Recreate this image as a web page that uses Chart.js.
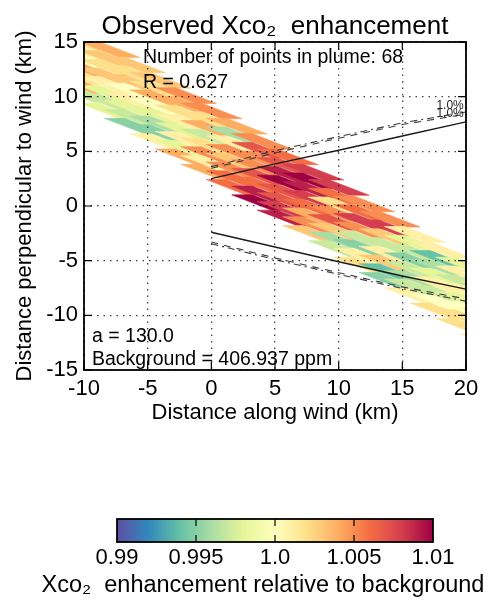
<!DOCTYPE html>
<html>
<head>
<meta charset="utf-8">
<script src="https://cdn.jsdelivr.net/npm/chart.js@4.4.1/dist/chart.umd.min.js"></script>
<style>
  html, body { margin: 0; padding: 0; background: #fff; }
  #wrap { position: relative; width: 490px; height: 605px; }
  #main { position: absolute; left: 0; top: 0; }
  #cbar { position: absolute; left: 0; top: 500px; }
</style>
</head>
<body>
<div id="wrap">
  <canvas id="main" width="490" height="430"></canvas>
  <canvas id="cbar" width="490" height="105"></canvas>
</div>
<script>
// ---------- values ----------
const xTickLabels = ['-10', '-5', '0', '5', '10', '15', '20'];
const yTickLabels = ['-15', '-10', '-5', '0', '5', '10', '15'];
const cbarTickLabels = ['0.99', '0.995', '1.0', '1.005', '1.01'];
const cbarMin = 0.99, cbarMax = 1.01;

const pointsInPlume = 68;
const corrR = '0.627';
const aParam = '130.0';
const backgroundPpm = '406.937';
const contourLabel = '1.0%';

// sounding centres along wind (km), shared by the 8 footprint rows of the swath
const alongKm = [-12, -10, -8, -6, -4, -2, 0, 2, 4, 6, 8, 10, 12, 14, 16, 18, 20, 22];

// centre of each sounding perpendicular to wind (km), top row of the swath first
const row1Y = [17.2, 15.8, 14.3, 12.9, 11.5, 10.1, 8.7, 7.3, 5.9, 4.5, 3.1, 1.7, 0.2, -1.2, -2.6, -4.0, -5.4, -6.8];
const row2Y = [16.4, 15.0, 13.5, 12.1, 10.7, 9.3, 7.9, 6.5, 5.1, 3.7, 2.3, 0.9, -0.6, -2.0, -3.4, -4.8, -6.2, -7.6];
const row3Y = [15.6, 14.2, 12.7, 11.3, 9.9, 8.5, 7.1, 5.7, 4.3, 2.9, 1.5, 0.1, -1.4, -2.8, -4.2, -5.6, -7.0, -8.4];
const row4Y = [14.8, 13.4, 11.9, 10.5, 9.1, 7.7, 6.3, 4.9, 3.5, 2.1, 0.7, -0.7, -2.2, -3.6, -5.0, -6.4, -7.8, -9.2];
const row5Y = [14.0, 12.6, 11.1, 9.7, 8.3, 6.9, 5.5, 4.1, 2.7, 1.3, -0.1, -1.5, -3.0, -4.4, -5.8, -7.2, -8.6, -10.0];
const row6Y = [13.2, 11.8, 10.3, 8.9, 7.5, 6.1, 4.7, 3.3, 1.9, 0.5, -0.9, -2.3, -3.8, -5.2, -6.6, -8.0, -9.4, -10.8];
const row7Y = [12.4, 11.0, 9.5, 8.1, 6.7, 5.3, 3.9, 2.5, 1.1, -0.3, -1.7, -3.1, -4.6, -6.0, -7.4, -8.8, -10.2, -11.6];
const row8Y = [11.6, 10.2, 8.7, 7.3, 5.9, 4.5, 3.1, 1.7, 0.3, -1.1, -2.5, -3.9, -5.4, -6.8, -8.2, -9.6, -11.0, -12.4];

// Xco2 relative to background for each sounding
const row1Ratio = [1.002, 1.003, 1.004, 1.003, 1.003, 1.005, 1.005, 1.004, 1.005, 1.006, 1.008, 1.008, 1.005, 1.005, 1.001, 1.001, 0.998, 1.000];
const row2Ratio = [1.003, 1.002, 1.003, 1.002, 1.002, 1.004, 1.002, 0.996, 1.007, 1.007, 1.010, 1.006, 1.006, 1.008, 0.998, 0.994, 1.001, 0.998];
const row3Ratio = [1.001, 1.001, 1.002, 1.003, 1.004, 1.002, 1.004, 1.001, 1.005, 1.009, 1.009, 1.002, 1.008, 1.003, 0.997, 0.996, 0.997, 1.001];
const row4Ratio = [1.000, 1.000, 1.003, 1.000, 1.000, 1.001, 0.997, 1.005, 1.005, 1.010, 1.008, 1.005, 1.005, 0.997, 0.995, 0.998, 1.001, 0.999];
const row5Ratio = [1.002, 1.004, 1.001, 1.001, 0.998, 0.998, 1.002, 1.003, 1.007, 1.007, 1.006, 1.007, 0.997, 1.001, 0.997, 1.001, 0.998, 1.001];
const row6Ratio = [1.004, 1.002, 0.998, 0.998, 0.996, 1.001, 1.005, 1.005, 1.006, 1.007, 1.004, 1.003, 0.995, 1.003, 0.996, 0.997, 1.000, 1.000];
const row7Ratio = [1.003, 1.004, 0.997, 0.997, 0.995, 0.998, 1.001, 1.006, 1.009, 1.008, 1.005, 0.996, 1.001, 0.994, 0.997, 1.000, 1.002, 1.002];
const row8Ratio = [0.998, 0.997, 0.998, 0.995, 1.001, 1.004, 1.004, 1.006, 1.010, 1.009, 1.003, 0.997, 1.002, 0.995, 1.001, 1.002, 1.002, 1.001];

// plume edges drawn from the source at x = 0
const plumeX = [0, 5, 10, 15, 20];
const edgeUpperSolid = [2.5, 3.85, 5.1, 6.4, 7.7];
const edgeLowerSolid = [-2.4, -3.75, -5.1, -6.4, -7.6];
const edgeUpperDash = [3.45, 4.85, 6.2, 7.45, 8.4];
const edgeLowerDash = [-3.3, -4.75, -6.1, -7.4, -8.5];
const edgeUpperDashDot = [3.6, 5.05, 6.35, 7.6, 8.6];
const edgeLowerDashDot = [-3.45, -4.9, -6.25, -7.55, -8.7];

// ---------- styling ----------
const FONT = '"Liberation Sans", Arial, Helvetica, sans-serif';
Chart.defaults.font.family = FONT;
Chart.defaults.color = '#000';

// matplotlib Spectral_r
const spectralStops = ['#5e4fa2', '#3288bd', '#66c2a5', '#abdda4', '#e6f598', '#ffffbf',
                       '#fee08b', '#fdae61', '#f46d43', '#d53e4f', '#9e0142'];

function hexRgb(h) {
  return [1, 3, 5].map(i => parseInt(h.slice(i, i + 2), 16));
}
function ratioColor(v) {
  let t = (v - cbarMin) / (cbarMax - cbarMin);
  t = Math.min(1, Math.max(0, t)) * (spectralStops.length - 1);
  const i = Math.min(Math.floor(t), spectralStops.length - 2);
  const f = t - i;
  const a = hexRgb(spectralStops[i]), b = hexRgb(spectralStops[i + 1]);
  const c = a.map((ch, k) => Math.round(ch + (b[k] - ch) * f));
  return `rgb(${c[0]},${c[1]},${c[2]})`;
}

const rows = [
  [row1Y, row1Ratio], [row2Y, row2Ratio], [row3Y, row3Ratio], [row4Y, row4Ratio],
  [row5Y, row5Ratio], [row6Y, row6Ratio], [row7Y, row7Ratio], [row8Y, row8Ratio]
];

// footprint shape in km: long half-axis and short half-axis of each parallelogram
const longHalf = { dx: 1.6, dy: -0.72 };
const shortHalf = { dx: 0.8, dy: 0 };

const footprints = {
  id: 'footprints',
  beforeDatasetsDraw(chart) {
    const { ctx, chartArea: a, scales: { x, y } } = chart;
    ctx.save();
    ctx.beginPath();
    ctx.rect(a.left, a.top, a.width, a.height);
    ctx.clip();
    alongKm.forEach((cx, i) => {
      rows.forEach(([ys, vals]) => {
        const cy = ys[i];
        const corners = [
          [cx + longHalf.dx + shortHalf.dx, cy + longHalf.dy + shortHalf.dy],
          [cx + longHalf.dx - shortHalf.dx, cy + longHalf.dy - shortHalf.dy],
          [cx - longHalf.dx - shortHalf.dx, cy - longHalf.dy - shortHalf.dy],
          [cx - longHalf.dx + shortHalf.dx, cy - longHalf.dy + shortHalf.dy]
        ];
        ctx.beginPath();
        corners.forEach(([kx, ky], j) => {
          const px = x.getPixelForValue(kx), py = y.getPixelForValue(ky);
          if (j) ctx.lineTo(px, py); else ctx.moveTo(px, py);
        });
        ctx.closePath();
        const col = ratioColor(vals[i]);
        ctx.fillStyle = col;
        ctx.strokeStyle = col;
        ctx.lineWidth = 0.6;
        ctx.fill();
        ctx.stroke();
      });
    });
    ctx.restore();
  }
};

const frameAndText = {
  id: 'frameAndText',
  afterDraw(chart) {
    const { ctx, chartArea: a, scales: { x, y } } = chart;
    ctx.save();
    ctx.strokeStyle = '#000';
    ctx.lineWidth = 1.2;
    ctx.beginPath();
    x.ticks.forEach(t => {
      const px = x.getPixelForValue(t.value);
      ctx.moveTo(px, a.bottom); ctx.lineTo(px, a.bottom - 8);
      ctx.moveTo(px, a.top); ctx.lineTo(px, a.top + 8);
    });
    y.ticks.forEach(t => {
      const py = y.getPixelForValue(t.value);
      ctx.moveTo(a.left, py); ctx.lineTo(a.left + 8, py);
      ctx.moveTo(a.right, py); ctx.lineTo(a.right - 8, py);
    });
    ctx.stroke();
    ctx.lineWidth = 1.8;
    ctx.strokeRect(a.left, a.top, a.width, a.height);

    ctx.fillStyle = '#000';
    ctx.textBaseline = 'alphabetic';
    ctx.textAlign = 'center';
    ctx.font = '26px ' + FONT;
    ctx.fillText('Observed Xco\u2082  enhancement', (a.left + a.right) / 2, 34);

    ctx.textAlign = 'left';
    ctx.font = '19.5px ' + FONT;
    ctx.fillText('Number of points in plume: ' + pointsInPlume, a.left + 59, a.top + 21);
    ctx.fillText('R = ' + corrR, a.left + 59, a.top + 46);
    ctx.fillText('a = ' + aParam, a.left + 8, a.bottom - 28);
    ctx.fillText('Background = ' + backgroundPpm + ' ppm', a.left + 8, a.bottom - 5);

    ctx.font = '12px ' + FONT;
    ctx.fillStyle = '#222';
    ctx.textAlign = 'center';
    ctx.textBaseline = 'middle';
    ctx.fillText(contourLabel, x.getPixelForValue(18.75), y.getPixelForValue(9.2));
    ctx.fillText(contourLabel, x.getPixelForValue(18.75), y.getPixelForValue(8.4));
    ctx.restore();
  }
};

const pts = ys => plumeX.map((px, i) => ({ x: px, y: ys[i] }));
const edgeSets = [
  { data: pts(edgeUpperSolid), borderDash: [], borderWidth: 1.4, borderColor: '#1a1a1a' },
  { data: pts(edgeLowerSolid), borderDash: [], borderWidth: 1.4, borderColor: '#1a1a1a' },
  { data: pts(edgeUpperDash), borderDash: [7, 6] },
  { data: pts(edgeLowerDash), borderDash: [7, 6] },
  { data: pts(edgeUpperDashDot), borderDash: [7, 4, 2, 4] },
  { data: pts(edgeLowerDashDot), borderDash: [7, 4, 2, 4] }
].map(d => ({
  borderColor: '#3a3a3a',
  borderWidth: 1.1,
  ...d,
  showLine: true,
  pointRadius: 0,
  fill: false,
  tension: 0
}));

new Chart(document.getElementById('main'), {
  type: 'scatter',
  data: { datasets: edgeSets },
  options: {
    responsive: false,
    animation: false,
    layout: { padding: { left: 0, right: 24, top: 42, bottom: 0 } },
    plugins: {
      legend: { display: false },
      tooltip: { enabled: false },
      title: { display: false }
    },
    scales: {
      x: {
        type: 'linear',
        min: -10, max: 20,
        ticks: { stepSize: 5, callback: (v, i) => xTickLabels[i], font: { size: 22 }, padding: 6, maxRotation: 0, autoSkip: false, color: '#000' },
        grid: { color: 'rgba(0,0,0,0.75)', lineWidth: 1.3, drawTicks: false, z: 1 },
        border: { display: false, dash: [1.5, 5] },
        title: { display: true, text: 'Distance along wind (km)', font: { size: 22 }, color: '#000', padding: { top: 0, bottom: 3.8 } },
        afterFit: s => { s.height = 60; }
      },
      y: {
        type: 'linear',
        min: -15, max: 15,
        ticks: { stepSize: 5, callback: (v, i) => yTickLabels[i], font: { size: 22 }, padding: 6, autoSkip: false, color: '#000' },
        grid: { color: 'rgba(0,0,0,0.75)', lineWidth: 1.3, drawTicks: false, z: 1 },
        border: { display: false, dash: [1.5, 5] },
        title: { display: true, text: 'Distance perpendicular to wind (km)', font: { size: 22 }, color: '#000', padding: { top: 12, bottom: 0 } },
        afterFit: s => { s.width = 84; }
      }
    }
  },
  plugins: [footprints, frameAndText]
});

// ---------- colour bar ----------
const colorbar = {
  id: 'colorbar',
  beforeDatasetsDraw(chart) {
    const { ctx, chartArea: a, scales: { x } } = chart;
    const x0 = x.getPixelForValue(cbarMin), x1 = x.getPixelForValue(cbarMax);
    const g = ctx.createLinearGradient(x0, 0, x1, 0);
    spectralStops.forEach((c, i) => g.addColorStop(i / (spectralStops.length - 1), c));
    ctx.save();
    ctx.fillStyle = g;
    ctx.fillRect(x0, a.top, x1 - x0, a.height);
    ctx.restore();
  },
  afterDraw(chart) {
    const { ctx, chartArea: a, scales: { x } } = chart;
    ctx.save();
    ctx.strokeStyle = '#000';
    ctx.lineWidth = 1.2;
    ctx.beginPath();
    x.ticks.slice(1, -1).forEach(t => {
      const px = x.getPixelForValue(t.value);
      ctx.moveTo(px, a.top); ctx.lineTo(px, a.top + 7);
      ctx.moveTo(px, a.bottom); ctx.lineTo(px, a.bottom - 7);
    });
    ctx.stroke();
    ctx.lineWidth = 1.8;
    ctx.strokeRect(a.left, a.top, a.width, a.height);
    ctx.fillStyle = '#000';
    ctx.font = '23.5px ' + FONT;
    ctx.textAlign = 'center';
    ctx.textBaseline = 'alphabetic';
    ctx.fillText('Xco\u2082  enhancement relative to background', 263, 92);
    ctx.restore();
  }
};

new Chart(document.getElementById('cbar'), {
  type: 'scatter',
  data: { datasets: [] },
  options: {
    responsive: false,
    animation: false,
    layout: { padding: { left: 117, right: 57, top: 19, bottom: 0 } },
    plugins: { legend: { display: false }, tooltip: { enabled: false } },
    scales: {
      x: {
        type: 'linear',
        min: cbarMin, max: cbarMax,
        ticks: { stepSize: 0.005, callback: (v, i) => cbarTickLabels[i], font: { size: 22 }, padding: 3, maxRotation: 0, autoSkip: false, color: '#000' },
        grid: { display: false, drawTicks: false },
        border: { display: false },
        afterFit: s => { s.height = 63; }
      },
      y: { display: false, min: 0, max: 1 }
    }
  },
  plugins: [colorbar]
});
</script>
</body>
</html>
